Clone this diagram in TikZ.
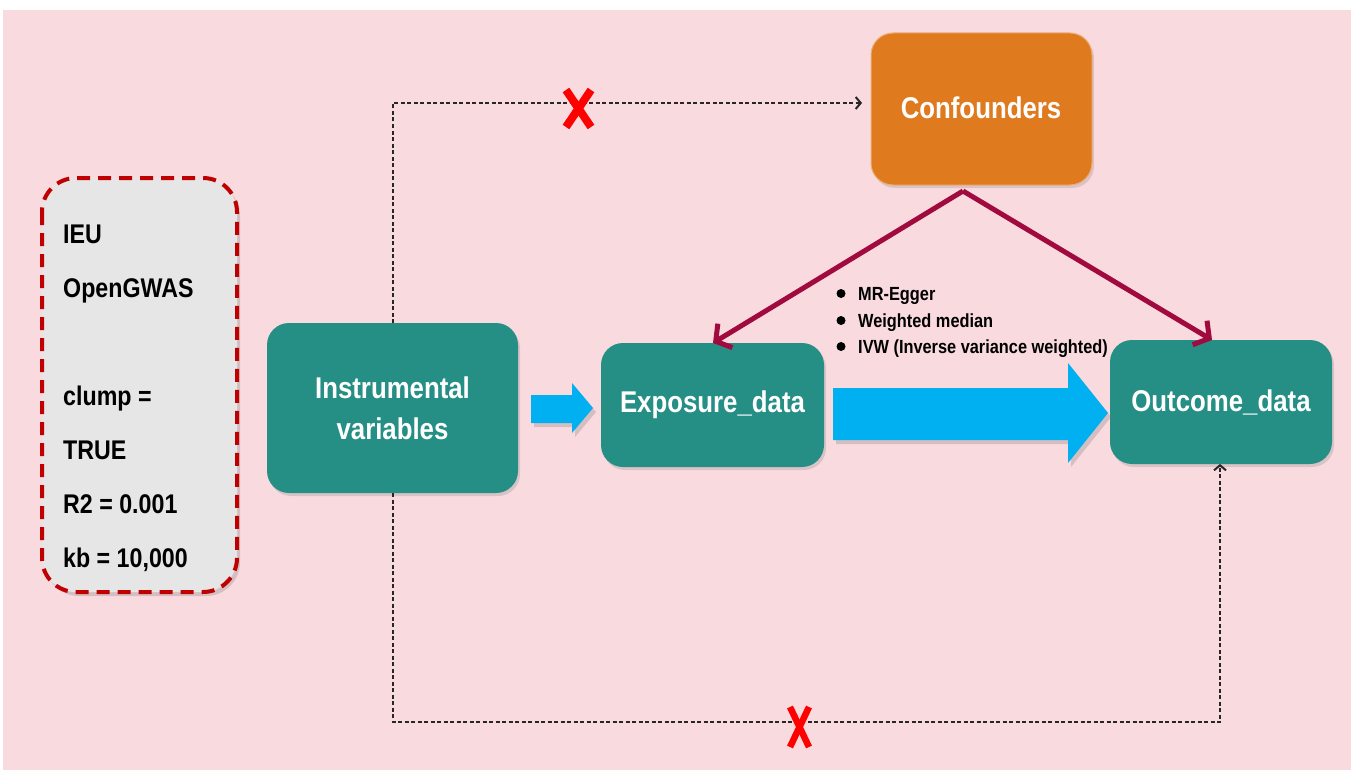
\documentclass[tikz,border=0pt]{standalone}
\usepackage{fontspec}
\setmainfont{Liberation Sans}
\newfontfamily\nar[FakeStretch=0.86]{Liberation Sans}
\usetikzlibrary{arrows.meta,shadows}
\definecolor{bgpink}{HTML}{F9DADF}
\definecolor{teal1}{HTML}{258E85}
\definecolor{orange1}{HTML}{E07A1E}
\definecolor{maroon1}{HTML}{A00A3E}
\definecolor{blue1}{HTML}{00B0F0}
\definecolor{boxgray}{HTML}{E6E6E6}
\definecolor{dred}{HTML}{C00000}
\tikzset{
  tealbox/.style={fill=teal1, rounded corners=22pt, draw=none,
    drop shadow={shadow xshift=2pt,shadow yshift=-3pt,opacity=0.25}},
  boxtext/.style={text=white, font=\nar\bfseries\fontsize{30}{41}\selectfont, align=center},
  lefttext/.style={anchor=base west, inner sep=0pt, font=\nar\bfseries\fontsize{27}{30}\selectfont},
  bullettext/.style={anchor=base west, inner sep=0pt, font=\nar\bfseries\fontsize{19}{22}\selectfont},
  confarrow/.style={draw=maroon1, line width=5pt, -{Straight Barb[length=11pt,width=28pt,line width=5pt]}},
  dashline/.style={draw=black!85, line width=2pt, dash pattern=on 4pt off 2.5pt},
  redx/.style={draw=red, line width=8pt},
  bluearrow/.style={fill=blue1, draw=none, drop shadow={shadow xshift=3pt,shadow yshift=-4pt,opacity=0.3}}
}
\begin{document}
\begin{tikzpicture}[x=1pt,y=-1pt]
\useasboundingbox (0,0) rectangle (1354,773);
\fill[bgpink] (3,10) rectangle (1351,770);

% left info box
\path[fill=boxgray, draw=dred, line width=4pt, dash pattern=on 13pt off 8pt, rounded corners=34pt,
  drop shadow={shadow xshift=3pt,shadow yshift=-4pt,opacity=0.3}] (42,178) rectangle (237,592);
\node[lefttext] (l1) at (63,243) {IEU};
\node[lefttext] (l2) at (63,297) {OpenGWAS};
\node[lefttext] (l3) at (63,405) {clump =};
\node[lefttext] (l4) at (63,459) {TRUE};
\node[lefttext] (l5) at (63,513) {R2 = 0.001};
\node[lefttext] (l6) at (63,567) {kb = 10,000};

% main boxes
\path[tealbox] (267,323) rectangle (518,493);
\node[boxtext] (iv) at (392.5,408) {Instrumental\\variables};
\coordinate (ivtop) at (393,323);
\coordinate (ivbot) at (393,493);

\path[tealbox] (601,343) rectangle (824,467);
\node[boxtext] (exp) at (712.5,405) {Exposure\_data};
\coordinate (exptop) at (713,343);

\path[tealbox] (1110,340) rectangle (1332,464);
\node[boxtext] (out) at (1221,402) {Outcome\_data};
\coordinate (outtop) at (1212,340);
\coordinate (outbot) at (1220,464);

\path[fill=orange1, draw=orange1!60!white, line width=1pt, rounded corners=22pt,
  drop shadow={shadow xshift=2pt,shadow yshift=-3pt,opacity=0.25}] (871,33) rectangle (1092,185);
\node[text=white, font=\nar\bfseries\fontsize{30}{36}\selectfont] (conf) at (981,108) {Confounders};
\coordinate (confbot) at (963,191);

% blue arrows
\path[bluearrow] (531,395) -- (572,395) -- (572,383) -- (593,408) -- (572,433) -- (572,423) -- (531,423) -- cycle;
\path[bluearrow] (833,388) -- (1068,388) -- (1068,363) -- (1108,413) -- (1068,463) -- (1068,440) -- (833,440) -- cycle;

% confounder arrows
\draw[confarrow] (confbot) -- (exptop);
\draw[confarrow] (confbot) -- (outtop);

% methods
\foreach \yy/\tt [count=\i] in {300/MR-Egger, 327/Weighted median, 353/IVW (Inverse variance weighted)} {
  \fill (841,\yy-6.5) circle (4.5pt);
  \node[bullettext] (m\i) at (858,\yy) {\tt};
}

% dashed paths
\coordinate (tl) at (393,103);
\coordinate (bl) at (393,722);
\coordinate (br) at (1220,722);
\coordinate (conftip) at (862,103);
\draw[dashline, -{Straight Barb[length=5pt,width=12pt,line width=2pt]}] (ivtop) -- (tl) -- (conftip);
\draw[dashline, -{Straight Barb[length=5pt,width=12pt,line width=2pt]}] (ivbot) -- (bl) -- (br) -- (outbot);

% red crosses
\draw[redx] (566,90) -- (591,127);
\draw[redx] (591,90) -- (566,127);
\draw[draw=red, line width=6.5pt] (790,707) -- (809,747);
\draw[draw=red, line width=6.5pt] (809,707) -- (790,747);
\end{tikzpicture}
\end{document}
